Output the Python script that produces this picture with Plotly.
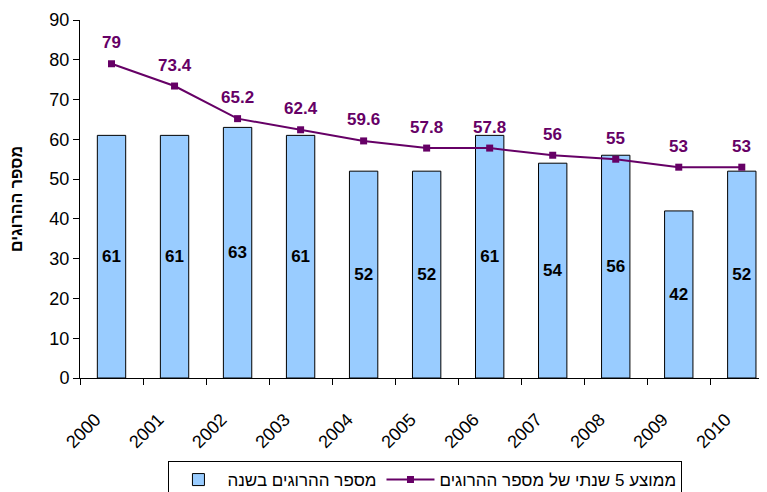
import plotly.graph_objects as go

# Data
years = ['2000', '2001', '2002', '2003', '2004', '2005',
         '2006', '2007', '2008', '2009', '2010']
killed = [61, 61, 63, 61, 52, 52, 61, 54, 56, 42, 52]
avg5 = [79, 73.4, 65.2, 62.4, 59.6, 57.8, 57.8, 56, 55, 53, 53]

bar_name = 'מספר ההרוגים בשנה'
line_name = 'ממוצע 5 שנתי של מספר ההרוגים'
y_title = 'מספר ההרוגים'

purple = '#660066'
font = 'Liberation Sans, Arial, sans-serif'

fig = go.Figure()

fig.add_bar(
    x=years,
    y=killed,
    name=bar_name,
    width=0.45,
    marker=dict(color='#99CCFF', line=dict(color='black', width=1)),
    text=[str(v) for v in killed],
    textposition='inside',
    insidetextanchor='middle',
    textangle=0,
    constraintext='none',
    textfont=dict(family=font, size=17, color='black', weight='bold'),
)

fig.add_scatter(
    x=years,
    y=avg5,
    name=line_name,
    mode='lines+markers',
    line=dict(color=purple, width=2),
    marker=dict(symbol='square', size=7, color=purple),
)

# labels above the average line (x given as category index)
for i, v in enumerate(avg5):
    fig.add_annotation(
        x=i, y=v, text=f'{v:g}', showarrow=False,
        yshift=21,
        font=dict(family=font, size=17, color=purple, weight='bold'),
    )

# the page adds an 8px body margin, so the figure is sized to fit the window
fig.update_layout(
    width=759,
    height=484,
    margin=dict(l=72, r=0, t=12, b=114),
    plot_bgcolor='white',
    paper_bgcolor='white',
    font=dict(family=font, size=16, color='black'),
    showlegend=True,
    legend=dict(
        orientation='h',
        xref='container', yref='container',
        x=0.55, xanchor='center',
        y=0.064, yanchor='top',
        bordercolor='black', borderwidth=1,
        font=dict(size=17),
        itemwidth=48,
    ),
)

fig.update_xaxes(
    type='category',
    range=[-0.5, 10.4],
    automargin=False,
    showline=True, linecolor='black', linewidth=1,
    ticks='outside', tickson='boundaries', ticklen=6, tickcolor='black',
    tickangle=-45,
    tickfont=dict(size=18),
    ticklabelstandoff=23,
    ticklabelshift=-16,
    showgrid=False,
)

fig.update_yaxes(
    range=[0, 90],
    dtick=10,
    automargin=False,
    showline=True, linecolor='black', linewidth=1,
    ticks='outside', ticklen=6, tickcolor='black',
    tickfont=dict(size=18),
    showgrid=False,
    zeroline=False,
    title=dict(text=y_title, font=dict(size=16, weight='bold'), standoff=26),
)

fig.write_html('out.html')
